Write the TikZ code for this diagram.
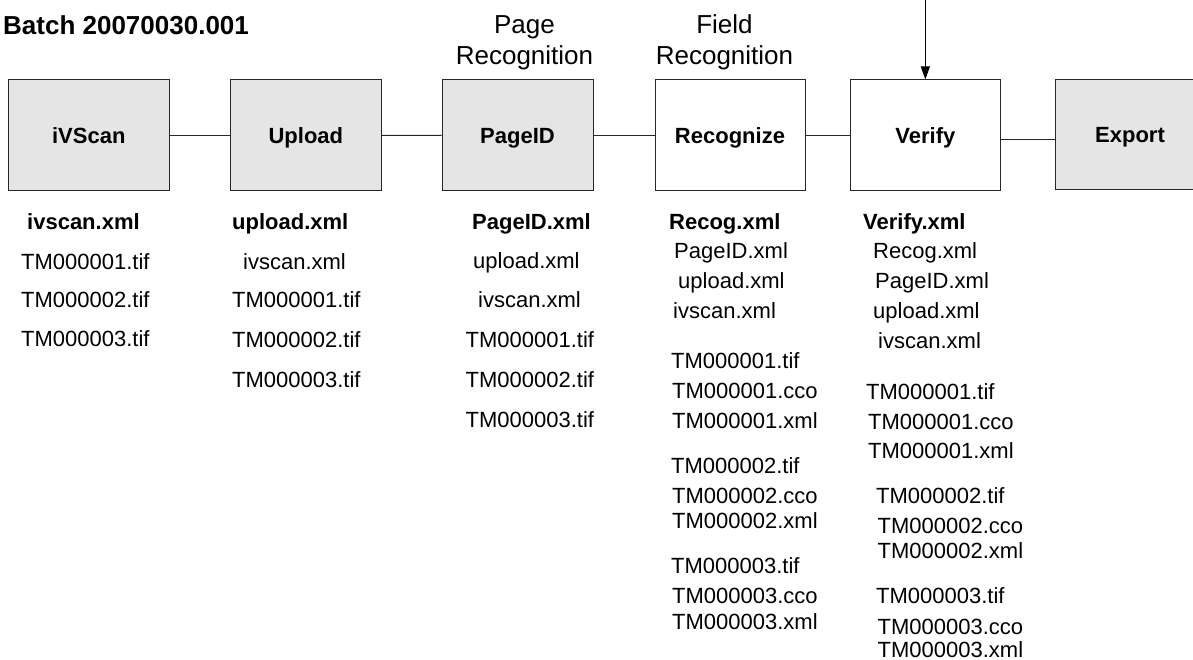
\documentclass[tikz,border=0pt]{standalone}
\usepackage{fontspec}
\setmainfont{Liberation Sans}
\usetikzlibrary{arrows.meta}
\definecolor{boxgray}{HTML}{E5E5E5}
\newcommand\txtsize{\fontsize{22}{26}\selectfont}
\newcommand\ttlsize{\fontsize{26}{31.7}\selectfont}
\begin{document}
\begin{tikzpicture}[x=1pt,y=-1pt,
  stage/.style={draw=black!85, line width=1pt, inner sep=0pt, text height=15.8pt, text depth=0pt, font=\txtsize\bfseries},
  grayst/.style={stage, fill=boxgray},
  whitest/.style={stage, fill=white},
  ft/.style={inner sep=0pt, anchor=base west, font=\txtsize},
  fb/.style={ft, font=\txtsize\bfseries},
  heading/.style={inner sep=0pt, anchor=base, align=center, font=\ttlsize},
  link/.style={draw=black!85, line width=1pt},
  arr/.style={draw=black, line width=1pt, -{Triangle[length=13pt,width=9pt]}}]
\useasboundingbox (0,0) rectangle (1193,660);

% titles
\node[inner sep=0pt, anchor=base west, font=\ttlsize\bfseries] (batch) at (3,34.3) {Batch 20070030.001};
\node[heading] (pr) at (524.5,65) {Page\\Recognition};
\node[heading] (fr) at (724.5,65) {Field\\Recognition};

% stage boxes
\node[grayst, minimum width=161pt, minimum height=110.7pt] (scan) at (88.8,135.35) {iVScan};
\node[grayst, minimum width=150.3pt, minimum height=110.7pt] (upl) at (305.85,135.35) {Upload};
\node[grayst, minimum width=151pt, minimum height=111pt] (pid) at (517.5,135.5) {PageID};
\node[whitest, minimum width=150pt, minimum height=111pt] (rec) at (730,135.5) {Recognize};
\node[whitest, minimum width=150.7pt, minimum height=111pt] (ver) at (925.35,135.5) {Verify};
\node[grayst, minimum width=150pt, minimum height=110pt] (exp) at (1130,134.3) {Export};

% connectors
\draw[link] (scan.east) -- (upl.west);
\draw[link] (upl.east) -- (pid.west);
\draw[link] (pid.east) -- (rec.west);
\draw[link] (rec.east) -- (ver.west);
\draw[link] ([yshift=-3.8pt]ver.east) -- ([yshift=-3.8pt]ver.east -| exp.west);
\coordinate (src) at (925.35,-5);
\draw[arr] (src) -- (ver.north);

% file lists
\foreach \n/\x/\y/\t in {
  a0/27/221.7/ivscan.xml}
  \node[fb] (\n) at (\x,\y+7.7) {\t};
\foreach \n/\x/\y/\t in {
  a1/21/261.7/TM000001.tif, a2/21/300/TM000002.tif, a3/21/338.5/TM000003.tif}
  \node[ft] (\n) at (\x,\y+7.7) {\t};

\node[fb] (b0) at (232,221.7+7.7) {upload.xml};
\foreach \n/\x/\y/\t in {
  b1/243/261.7/ivscan.xml, b2/232/300/TM000001.tif, b3/232/340/TM000002.tif, b4/232/380/TM000003.tif}
  \node[ft] (\n) at (\x,\y+7.7) {\t};

\node[fb] (c0) at (472,221.7+7.7) {PageID.xml};
\foreach \n/\x/\y/\t in {
  c1/473/261/upload.xml, c2/478/300/ivscan.xml, c3/465.5/340/TM000001.tif,
  c4/465.5/380/TM000002.tif, c5/465.5/420/TM000003.tif}
  \node[ft] (\n) at (\x,\y+7.7) {\t};

\node[fb] (d0) at (669,221.7+7.7) {Recog.xml};
\foreach \n/\x/\y/\t in {
  d1/674/250.7/PageID.xml, d2/678/280.5/upload.xml, d3/673/310.5/ivscan.xml,
  d4/671/360.5/TM000001.tif, d5/672/391/TM000001.cco, d6/672/420.7/TM000001.xml,
  d7/671/466/TM000002.tif, d8/672/496/TM000002.cco, d9/672/521/TM000002.xml,
  d10/671/566/TM000003.tif, d11/672/596/TM000003.cco, d12/672/622/TM000003.xml}
  \node[ft] (\n) at (\x,\y+7.7) {\t};

\node[fb] (e0) at (863,221.7+7.7) {Verify.xml};
\foreach \n/\x/\y/\t in {
  e1/873/251/Recog.xml, e2/875/280.7/PageID.xml, e3/873/310.7/upload.xml,
  e4/878/340.7/ivscan.xml,
  e5/866/391.7/TM000001.tif, e6/868/421.7/TM000001.cco, e7/868/450.5/TM000001.xml,
  e8/876/495.5/TM000002.tif, e9/877.5/525.7/TM000002.cco, e10/877.5/550.5/TM000002.xml,
  e11/876/595.5/TM000003.tif, e12/877.5/626.5/TM000003.cco, e13/877.5/649.7/TM000003.xml}
  \node[ft] (\n) at (\x,\y+7.7) {\t};
\end{tikzpicture}
\end{document}
